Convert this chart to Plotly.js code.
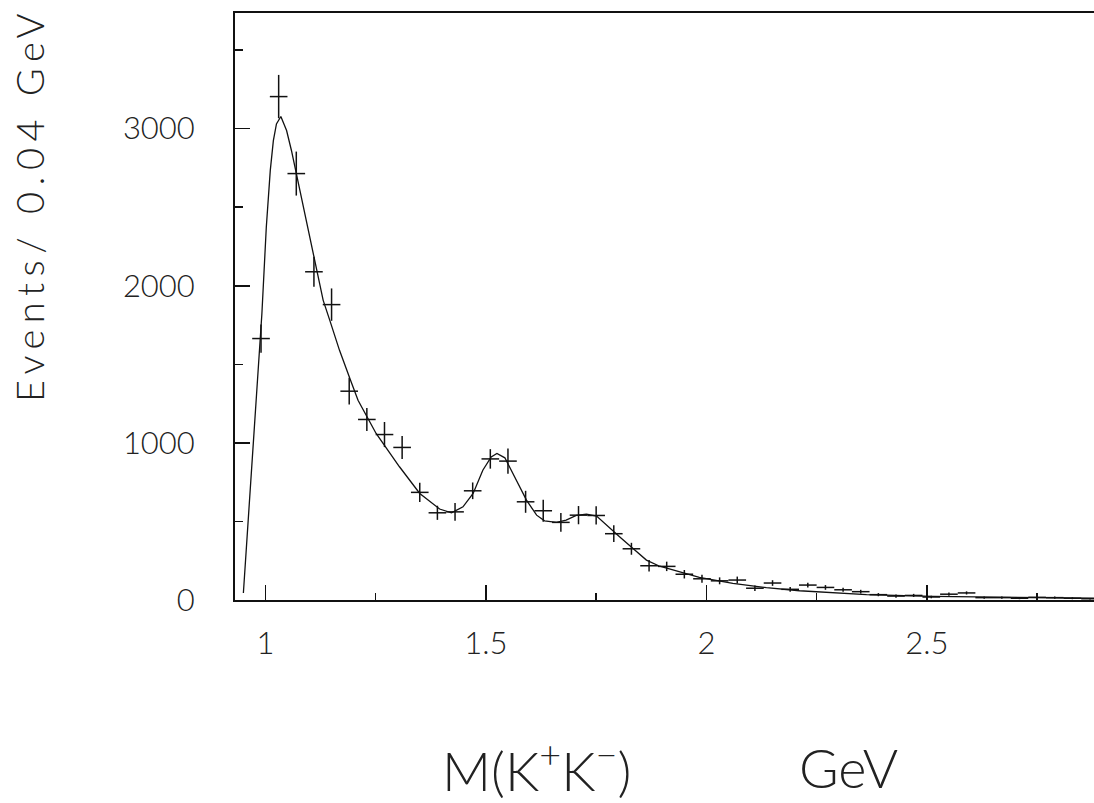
<!DOCTYPE html>
<html>
<head>
<meta charset="utf-8">
<script src="https://cdn.plot.ly/plotly-3.0.1.min.js"></script>
<style>
html,body{margin:0;padding:0;background:#fff;}
#chart{width:1094px;height:803px;}
.annotation[data-index="0"] text{letter-spacing:6.5px;}
</style>
</head>
<body>
<div id="chart"></div>
<script>
// Data points: bin centres (GeV), events per 0.04 GeV, errors
var binCenters = [0.99,1.03,1.07,1.11,1.15,1.19,1.23,1.27,1.31,1.35,1.39,1.43,1.47,1.51,1.55,1.59,1.63,1.67,1.71,1.75,1.79,1.83,1.87,1.91,1.95,1.99,2.03,2.07,2.11,2.15,2.19,2.23,2.27,2.31,2.35,2.39,2.43,2.47,2.51,2.55,2.59,2.63,2.67,2.71,2.75,2.79,2.83,2.87];
var events = [1664,3204,2714,2089,1880,1329,1149,1053,971,685,555,561,695,898,884,625,568,494,540,538,422,326,218,214,164,135,122,127,75,108,68,95,80,65,53,34,25,29,19,37,45,15,15,11,17,15,11,8];
var eventErrors = [90,138,140,95,103,85,73,80,73,62,45,57,53,62,80,70,70,60,58,58,53,38,37,30,27,25,22,22,18,18,15,15,15,13,12,10,10,10,8,10,10,7,7,6,7,7,6,5];
var binHalfWidth = 0.02;

// Fit curve
var fitX = [0.950,0.982,0.992,1.002,1.011,1.018,1.025,1.035,1.048,1.059,1.070,1.093,1.113,1.131,1.146,1.168,1.193,1.210,1.251,1.304,1.350,1.395,1.422,1.448,1.471,1.493,1.512,1.525,1.543,1.561,1.592,1.615,1.633,1.660,1.682,1.705,1.728,1.751,1.773,1.803,1.833,1.864,1.894,1.909,1.984,2.060,2.136,2.211,2.363,2.514,2.665,2.880];
var fitY = [45,1399,1823,2374,2734,2924,3030,3077,2988,2861,2713,2416,2140,1907,1780,1589,1399,1271,1060,848,678,579,555,593,678,826,911,933,905,806,636,540,504,494,509,538,547,534,477,403,329,254,215,203,144,106,79,59,34,23,17,11];

// Tick labels
var xTickVals = [1,1.5,2,2.5];
var xTickText = ['1','1.5','2','2.5'];
var xMinorVals = [1.25,1.75,2.25,2.75];
var yTickVals = [0,1000,2000,3000];
var yTickText = ['0','1000','2000','3000'];
var yMinorVals = [500,1500,2500,3500];

var xTitle = 'M(K<sup>+</sup>K<sup>\u2212</sup>)';
var xUnit = 'GeV';
var yTitle = 'Events/ 0.04 GeV';

var FONT = 'Lato, Roboto, "Liberation Sans", sans-serif';
var ink = '#111';
var textInk = '#222';
var W = 300;

var traces = [
  {
    x: fitX, y: fitY, type: 'scatter', mode: 'lines',
    line: {color: ink, width: 1.3}, hoverinfo: 'skip'
  },
  {
    x: binCenters, y: events, type: 'scatter', mode: 'markers',
    marker: {size: 2, color: ink, opacity: 0},
    error_x: {type: 'constant', value: binHalfWidth, width: 0, thickness: 1.5, color: ink},
    error_y: {type: 'data', array: eventErrors, visible: true, width: 0, thickness: 1.5, color: ink}
  }
];

var layout = {
  width: 1094, height: 803,
  margin: {l: 235, r: 0, t: 13, b: 203, pad: 0},
  paper_bgcolor: '#fff', plot_bgcolor: '#fff',
  showlegend: false,
  font: {family: FONT, size: 32, color: textInk, weight: W},
  xaxis: {
    range: [0.931, 2.879],
    tickmode: 'array', tickvals: xTickVals, ticktext: xTickText,
    ticks: 'inside', ticklen: 15, tickwidth: 1.5, tickcolor: ink,
    minor: {tickmode: 'array', tickvals: xMinorVals, ticks: 'inside', ticklen: 7, tickwidth: 1.5, tickcolor: ink, showgrid: false},
    showgrid: false, zeroline: false,
    showline: true, linecolor: ink, linewidth: 2, mirror: true,
    ticklabelstandoff: 15,
    tickfont: {family: FONT, size: 31, color: textInk, weight: W}
  },
  yaxis: {
    range: [0, 3736],
    tickmode: 'array', tickvals: yTickVals, ticktext: yTickText,
    ticks: 'inside', ticklen: 15, tickwidth: 1.5, tickcolor: ink,
    minor: {tickmode: 'array', tickvals: yMinorVals, ticks: 'inside', ticklen: 8, tickwidth: 1.5, tickcolor: ink, showgrid: false},
    showgrid: false, zeroline: false,
    showline: true, linecolor: ink, linewidth: 2, mirror: true,
    ticklabelstandoff: 32,
    tickfont: {family: FONT, size: 31, color: textInk, weight: W}
  },
  annotations: [
    {
      text: yTitle, xref: 'paper', yref: 'paper',
      x: -0.2398, y: 0.6729, xanchor: 'center', yanchor: 'middle',
      textangle: -90, showarrow: false,
      font: {family: FONT, size: 38, color: textInk, weight: W}
    },
    {
      text: xTitle, xref: 'paper', yref: 'paper',
      x: 0.351, y: -0.2853, xanchor: 'center', yanchor: 'middle',
      showarrow: false,
      font: {family: FONT, size: 54, color: textInk, weight: W}
    },
    {
      text: xUnit, xref: 'paper', yref: 'paper',
      x: 0.6543, y: -0.2853, xanchor: 'left', yanchor: 'middle',
      showarrow: false,
      font: {family: FONT, size: 54, color: textInk, weight: W}
    }
  ]
};

Plotly.newPlot('chart', traces, layout, {displayModeBar: false, staticPlot: true});
</script>
</body>
</html>
